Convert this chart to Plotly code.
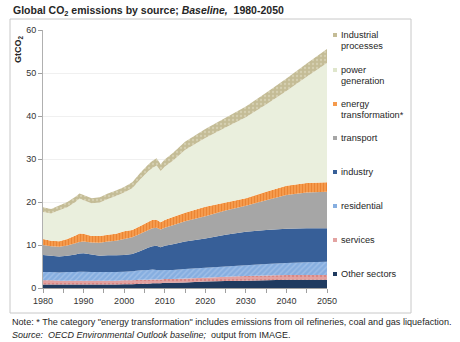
import plotly.graph_objects as go

# Years sampled from the baseline projection
years = [1980, 1982, 1984, 1986, 1988, 1989, 1990, 1992, 1994, 1996, 1998, 2000,
         2002, 2004, 2006, 2007, 2008, 2009, 2010, 2012, 2015, 2020, 2025, 2030,
         2035, 2040, 2045, 2050]

# Emissions by source, GtCO2 (stacked bottom to top)
other_sectors = [0.8, 0.8, 0.8, 0.8, 0.8, 0.8, 0.8, 0.8, 0.8, 0.8, 0.8, 0.9,
                 0.9, 1.0, 1.0, 1.1, 1.1, 1.1, 1.2, 1.2, 1.3, 1.5, 1.6, 1.7,
                 1.8, 1.9, 1.9, 1.9]
services = [1.0, 1.0, 0.9, 0.9, 0.9, 0.9, 0.9, 0.9, 0.9, 0.9, 0.9, 0.9,
            0.9, 0.9, 0.9, 0.9, 0.9, 0.9, 0.9, 0.9, 0.9, 0.9, 1.0, 1.1,
            1.1, 1.1, 1.1, 1.1]
residential = [1.9, 1.9, 1.9, 2.0, 2.0, 2.1, 2.1, 2.0, 2.0, 2.0, 2.0, 2.0,
               2.1, 2.2, 2.3, 2.3, 2.2, 2.1, 2.1, 2.1, 2.2, 2.3, 2.4, 2.5,
               2.7, 2.8, 3.0, 3.1]
industry = [4.0, 3.8, 3.7, 3.8, 4.1, 4.2, 4.3, 4.1, 3.8, 3.9, 3.9, 3.9,
            4.0, 4.5, 5.2, 5.4, 5.6, 5.4, 5.6, 6.0, 6.4, 6.8, 7.4, 7.8,
            7.9, 8.0, 7.9, 7.8]
transport = [2.3, 2.2, 2.3, 2.4, 2.6, 2.7, 2.7, 2.8, 3.0, 3.2, 3.4, 3.7,
             3.9, 4.0, 4.1, 4.2, 4.2, 4.1, 4.2, 4.4, 4.7, 5.2, 5.6, 6.0,
             6.9, 7.8, 8.3, 8.5]
energy_transformation = [1.4, 1.3, 1.3, 1.5, 1.8, 2.0, 1.8, 1.5, 1.6, 1.6, 1.6, 1.8,
                         1.7, 1.8, 1.9, 2.0, 1.9, 1.7, 1.8, 1.9, 2.0, 2.2, 1.9, 1.8,
                         2.0, 2.2, 2.2, 2.2]
power_generation = [6.3, 6.3, 7.2, 7.4, 7.8, 8.1, 7.8, 7.6, 7.8, 8.3, 8.8, 9.0,
                    9.7, 10.9, 11.8, 12.0, 12.6, 11.9, 12.4, 13.1, 14.6, 16.0, 17.4, 18.8,
                    20.3, 22.0, 24.7, 27.7]
industrial_processes = [1.1, 1.1, 1.1, 1.2, 1.2, 1.2, 1.2, 1.2, 1.2, 1.3, 1.3, 1.3,
                        1.4, 1.5, 1.6, 1.7, 1.7, 1.6, 1.7, 1.8, 1.9, 2.1, 2.3, 2.5,
                        2.7, 2.9, 3.1, 3.3]

x_ticks = [1980, 1990, 2000, 2010, 2020, 2030, 2040, 2050]
y_ticks = [0, 10, 20, 30, 40, 50, 60]

FONT = "Liberation Sans, Arial, sans-serif"

# name, values, base colour, pattern
series = [
    ("Other sectors", other_sectors, "#1f3a5f", None),
    ("services", services, "#e3a3a1",
     dict(shape=".", bgcolor="#e3a3a1", fgcolor="#c96a68", size=4, solidity=0.3)),
    ("residential", residential, "#86aee0",
     dict(shape="/", bgcolor="#86aee0", fgcolor="#b9d0ef", size=4, solidity=0.35)),
    ("industry", industry, "#375f98", None),
    ("transport", transport, "#a6a6a6", None),
    ("energy transformation*", energy_transformation, "#f59a4c",
     dict(shape="|", bgcolor="#f59a4c", fgcolor="#e2701c", size=3, solidity=0.35)),
    ("power generation", power_generation, "#eaefdd", None),
    ("Industrial processes", industrial_processes, "#c4bc96",
     dict(shape=".", bgcolor="#c4bc96", fgcolor="#e6e1cc", size=4, solidity=0.25)),
]

fig = go.Figure()
for name, vals, col, pat in series:
    kw = dict(fillpattern=pat) if pat else {}
    fig.add_trace(go.Scatter(
        x=years, y=vals, name=name, mode="none", stackgroup="co2",
        fillcolor=col, line=dict(width=0), showlegend=False, **kw))

# plot area in pixels
L, R, T, B = 43, 327, 30, 288
W, H = 460, 342


def px(xp):
    return (xp - L) / (R - L)


def py(yp):
    return (B - yp) / (B - T)


def note(text, x, y, size, xanchor="left", **extra):
    return dict(text=text, xref="paper", yref="paper", x=px(x), y=py(y),
                xanchor=xanchor, yanchor="middle", showarrow=False,
                font=dict(size=size, color="#262626", family=FONT), **extra)


shapes = [dict(type="rect", xref="paper", yref="paper",
               x0=px(10), x1=px(411), y0=py(313), y1=py(19),
               line=dict(color="#c8c8c8", width=1), fillcolor="rgba(0,0,0,0)",
               layer="below")]

annotations = [
    note("<b>Global CO<sub>2</sub> emissions by source; <i>Baseline,</i>  1980-2050</b>",
         11, 11, 10.5),
    note("<b>GtCO<sub>2</sub></b>", 18, 49, 9, xanchor="center", textangle=-90),
    note('Note: * The category "energy transformation" includes emissions from oil refineries, coal and gas liquefaction.',
         10, 322, 9.1),
    note("<i>Source:  OECD Environmental Outlook baseline;</i>  output from IMAGE.",
         10, 335, 9.0),
]

# legend entries: label lines and y pixel of first line
legend_items = [
    ("Industrial processes", ["Industrial", "processes"], 35),
    ("power generation", ["power", "generation"], 70),
    ("energy transformation*", ["energy", "transformation*"], 104),
    ("transport", ["transport"], 138),
    ("industry", ["industry"], 172),
    ("residential", ["residential"], 206),
    ("services", ["services"], 240),
    ("Other sectors", ["Other sectors"], 274),
]
colour_of = {name: col for name, _, col, _ in series}
for name, lines, ytop in legend_items:
    c = colour_of[name]
    if name == "power generation":
        c = "#dfe6cc"
    shapes.append(dict(type="rect", xref="paper", yref="paper",
                       x0=px(333), x1=px(337), y0=py(ytop + 2), y1=py(ytop - 2),
                       fillcolor=c, line=dict(width=0)))
    for i, ln in enumerate(lines):
        annotations.append(note(ln, 339, ytop + 11 * i, 9.2))

fig.update_layout(
    width=W, height=H,
    margin=dict(l=L, r=W - R, t=T, b=H - B),
    paper_bgcolor="white", plot_bgcolor="white",
    font=dict(family=FONT, size=9, color="#333333"),
    shapes=shapes, annotations=annotations, showlegend=False,
    xaxis=dict(range=[1980, 2050], tickvals=x_ticks, ticks="outside", ticklen=4,
               tickcolor="#a0a0a0", showline=True, linecolor="#a0a0a0",
               showgrid=False, zeroline=False, tickfont=dict(size=9, color="#333333"),
               minor=dict(dtick=5, tick0=1980, ticks="outside", ticklen=4,
                          tickcolor="#a0a0a0", showgrid=False)),
    yaxis=dict(range=[0, 60], tickvals=y_ticks, ticks="outside", ticklen=4,
               tickcolor="#a0a0a0", showline=True, linecolor="#b0b0b0",
               gridcolor="#f0f0f0", zeroline=False,
               tickfont=dict(size=9, color="#333333")),
)

fig.write_html("out.html")
